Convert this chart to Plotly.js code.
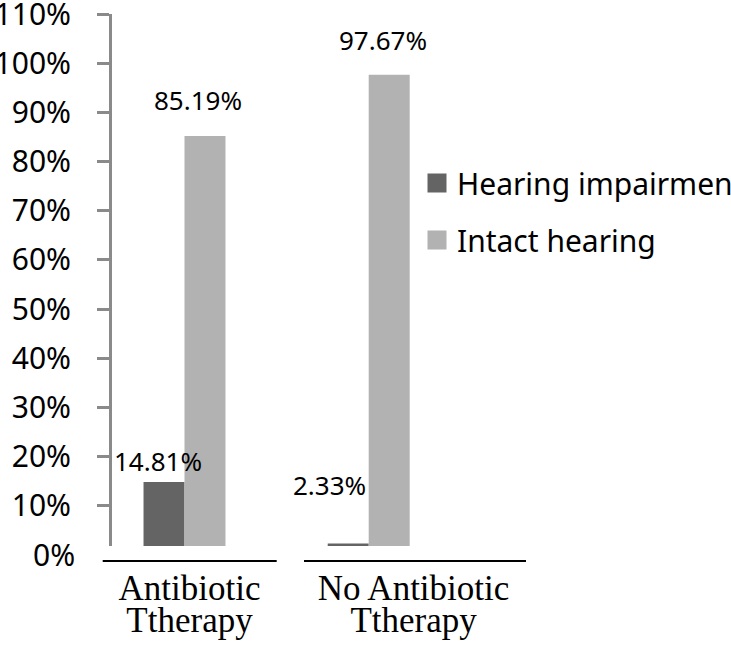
<!DOCTYPE html>
<html>
<head>
<meta charset="utf-8">
<script src="https://cdn.plot.ly/plotly-3.0.1.min.js"></script>
<style>html,body{margin:0;padding:0;background:#fff;}#chart{width:731px;height:649px;}</style>
</head>
<body>
<div id="chart"></div>
<script>
// ---- data ----
const categories = ['Antibiotic Ttherapy', 'No Antibiotic Ttherapy'];
const seriesNames = ['Hearing impairment', 'Intact hearing'];
const hearingImpairment = [14.81, 2.33];
const intactHearing = [85.19, 97.67];
const yTickValues = [0, 10, 20, 30, 40, 50, 60, 70, 80, 90, 100, 110];
const yTickLabels = ['0%', '10%', '20%', '30%', '40%', '50%', '60%', '70%', '80%', '90%', '100%', '110%'];

// ---- style ----
const colors = ['#646464', '#b2b2b2'];
const yMin = 1.81, yMax = 110.02;
const bargap = 0.555;
const barUnit = (1 - bargap) / 2;
// label pixel offsets (dx from bar centre, gap from bar top to baseline)
const labelDx = [[-6.5, -18.5], [-7, -6]];
const labelGap = [[10, 46.7], [25, 23]];

const series = [hearingImpairment, intactHearing];
const line1 = categories.map(c => c.slice(0, c.lastIndexOf(' ')));
const line2 = categories.map(c => c.slice(c.lastIndexOf(' ') + 1));

const traces = series.map((vals, s) => ({
  type: 'bar',
  name: seriesNames[s],
  x: categories,
  y: vals,
  marker: {color: colors[s]},
  showlegend: false,
  hoverinfo: 'skip'
}));
// legend entries (larger square symbols)
series.forEach((vals, s) => {
  traces.push({
    type: 'scatter', mode: 'markers', name: seriesNames[s],
    x: [0], y: [null], xaxis: 'x2',
    marker: {symbol: 'square', size: 16, color: colors[s], line: {color: colors[s], width: 3}},
    legendgroup: 'g' + s, showlegend: true, hoverinfo: 'skip'
  });
});
traces.push({type: 'scatter', mode: 'none', x: [0, 1], y: [null, null], xaxis: 'x3', showlegend: false, hoverinfo: 'skip'});

const annotations = [];
series.forEach((vals, s) => {
  vals.forEach((v, i) => {
    annotations.push({
      xref: 'x', yref: 'y',
      x: i + (s === 0 ? -1 : 1) * barUnit / 2,
      y: v,
      text: v.toFixed(2) + '%',
      showarrow: false,
      xanchor: 'center', yanchor: 'bottom',
      xshift: labelDx[s][i],
      yshift: labelGap[s][i] - 8.6,
      font: {family: 'Noto Sans', size: 26, color: '#000'}
    });
  });
});
// 0% label below clipped plot bottom
annotations.push({
  xref: 'paper', yref: 'paper',
  x: -35 / 414, y: (yTickValues[0] - yMin) / (yMax - yMin),
  xanchor: 'right', yanchor: 'middle',
  text: yTickLabels[0], showarrow: false,
  font: {family: 'Noto Sans', size: 30, color: '#000'}
});

const axLineY = -(561 - 546) / 532;
const shapes = [
  {type: 'line', xref: 'paper', yref: 'paper', x0: (102.7 - 112) / 414, x1: (276.7 - 112) / 414, y0: axLineY, y1: axLineY, line: {color: '#000', width: 2}},
  {type: 'line', xref: 'paper', yref: 'paper', x0: (304 - 112) / 414, x1: 1, y0: axLineY, y1: axLineY, line: {color: '#000', width: 2}}
];

const catFont = {family: 'Liberation Serif', size: 35, color: '#000'};

const layout = {
  width: 731, height: 649,
  margin: {l: 112, r: 205, t: 14, b: 103, autoexpand: false},
  paper_bgcolor: '#fff', plot_bgcolor: '#fff',
  barmode: 'group',
  bargap: bargap, bargroupgap: 0,
  showlegend: true,
  legend: {
    x: (417 - 112) / 414, y: 0.731, xanchor: 'left', yanchor: 'top',
    font: {family: 'Noto Sans', size: 30, color: '#000'},
    traceorder: 'grouped', tracegroupgap: 15,
    bgcolor: 'rgba(0,0,0,0)'
  },
  xaxis: {
    type: 'category', range: [-0.3936, 1.854],
    showline: false, showgrid: false, zeroline: false, ticks: '', showticklabels: false,
    fixedrange: true
  },
  xaxis2: {
    overlaying: 'x', anchor: 'y', side: 'bottom', type: 'linear',
    range: [-0.346, 1.502], tickmode: 'array', tickvals: [0, 1], ticktext: line1,
    showline: false, showgrid: false, zeroline: false, ticks: '',
    tickfont: catFont, ticklabelstandoff: 18
  },
  xaxis3: {
    overlaying: 'x', anchor: 'y', side: 'bottom', type: 'linear',
    range: [-0.346, 1.502], tickmode: 'array', tickvals: [0, 1], ticktext: line2,
    showline: false, showgrid: false, zeroline: false, ticks: '',
    tickfont: catFont, ticklabelstandoff: 50
  },
  yaxis: {
    range: [yMin, yMax],
    tickmode: 'array', tickvals: yTickValues.slice(1), ticktext: yTickLabels.slice(1),
    showline: true, linecolor: '#8a8a8a', linewidth: 3,
    ticks: 'outside', ticklen: 12, tickwidth: 3, tickcolor: '#8a8a8a',
    showgrid: false, zeroline: false,
    tickfont: {family: 'Noto Sans', size: 30, color: '#000'},
    ticklabelstandoff: 20, ticklabeloverflow: 'allow'
  },
  annotations: annotations,
  shapes: shapes
};

Plotly.newPlot('chart', traces, layout, {displayModeBar: false, staticPlot: true});
</script>
</body>
</html>
